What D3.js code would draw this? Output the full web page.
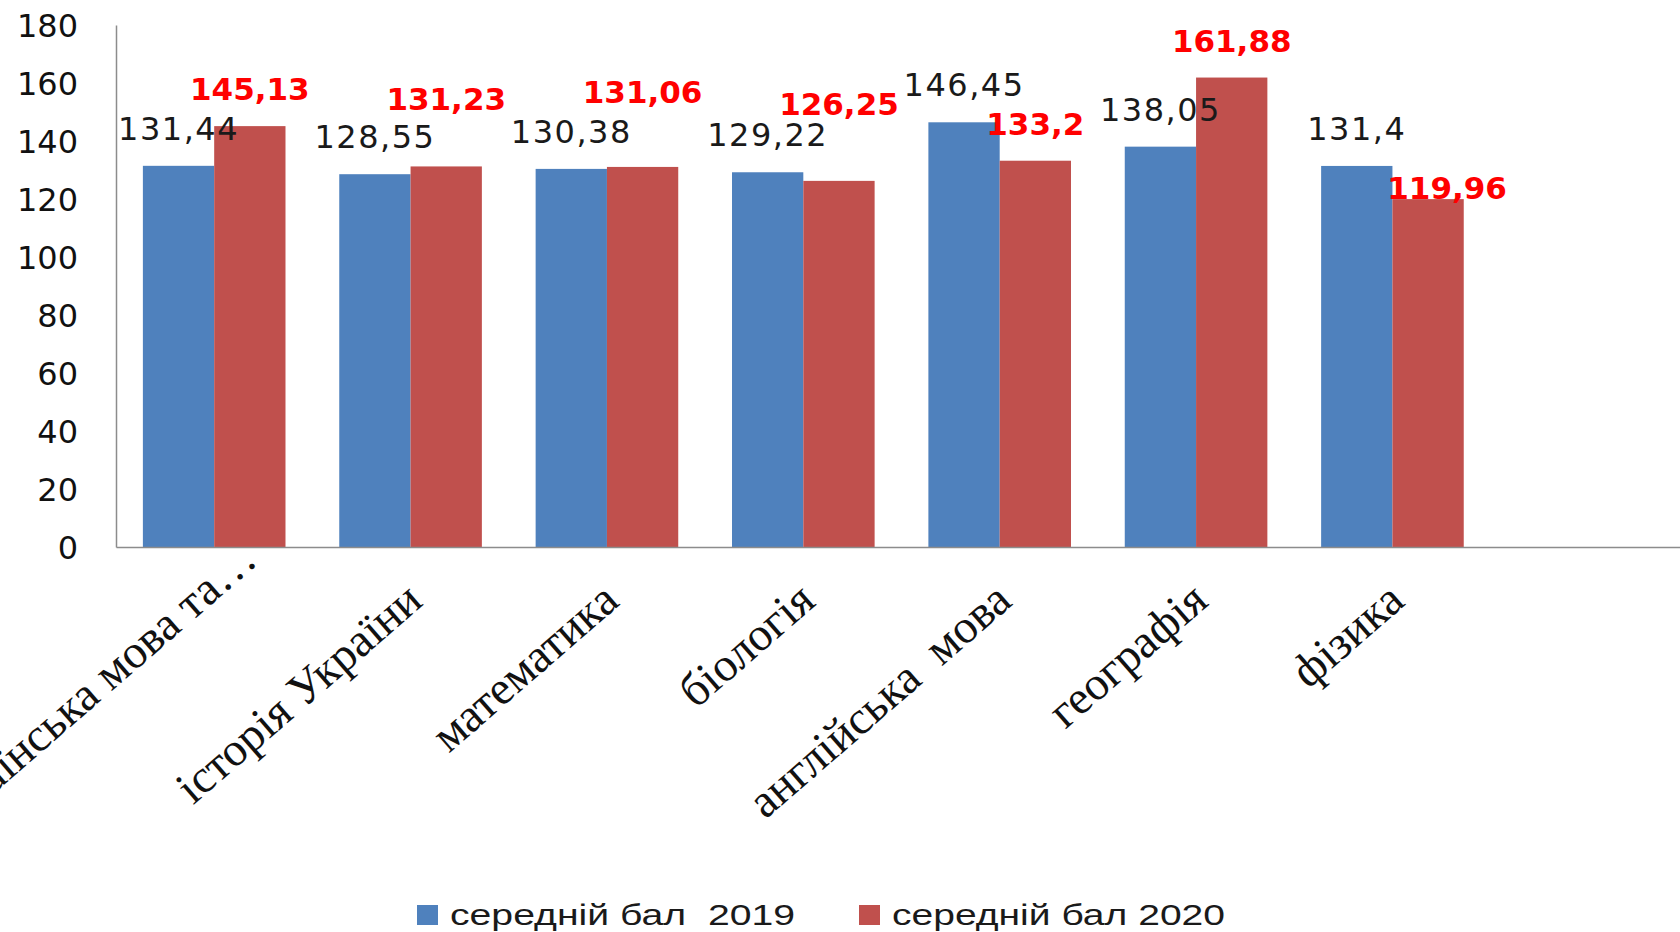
<!DOCTYPE html>
<html>
<head>
<meta charset="utf-8">
<script src="https://cdn.jsdelivr.net/npm/d3@7"></script>
<style>
  html, body { margin: 0; padding: 0; background: #fff; overflow: hidden; }
  svg { display: block; }
  text { white-space: pre; }
</style>
</head>
<body>
<svg id="chart" width="1680" height="932"></svg>
<script>
// ---- data ----
const categories = ["українська мова та…", "історія України", "математика", "біологія", "англійська  мова", "географія", "фізика", ""];
const values2019 = [131.44, 128.55, 130.38, 129.22, 146.45, 138.05, 131.4];
const values2020 = [145.13, 131.23, 131.06, 126.25, 133.2, 161.88, 119.96];
const seriesNames = ["середній бал  2019", "середній бал 2020"];
const yTicks = [0, 20, 40, 60, 80, 100, 120, 140, 160, 180];

// ---- layout / style (not data) ----
const colors = ["#4F81BD", "#C0504D"];
const labelShift2020 = [[0, 0], [0, -30], [0, -38], [0, -40], [0, 0], [0, 0], [19, 26]];
const catShift = [[31, -41], [0, 0], [0, 0], [0, 0], [0, 0], [0, 0], [0, 0], [0, 0]];

const svg = d3.select("#chart");
const mLeft = 116, mRight = 1687, mTop = 25, mBottom = 547;

const x0 = d3.scaleBand().domain(d3.range(categories.length)).range([mLeft, mRight]).padding(0);
const x1 = d3.scaleBand().domain([0, 1]).range([0, x0.bandwidth()]).paddingInner(0).paddingOuter(0.377);
const y = d3.scaleLinear().domain([0, 180]).range([mBottom, mTop]);

// bars
const series = [values2019, values2020];
series.forEach((vals, s) => {
  svg.append("g").selectAll("rect").data(vals).join("rect")
    .attr("x", (d, i) => x0(i) + x1(s))
    .attr("y", d => y(d))
    .attr("width", x1.bandwidth())
    .attr("height", d => y(0) - y(d))
    .attr("fill", colors[s]);
});

// axes
const yAxis = d3.axisLeft(y).tickValues(yTicks).tickSize(0).tickPadding(38);
const gy = svg.append("g").attr("transform", `translate(${mLeft},0)`).call(yAxis);
gy.select(".domain").attr("stroke", "#8c8c8c").attr("stroke-width", 1.5);
gy.selectAll(".tick text")
  .attr("font-family", "DejaVu Sans, Verdana, sans-serif")
  .attr("font-size", 32).attr("fill", "#111").attr("dy", "0.36em");

const xAxis = d3.axisBottom(x0).tickSize(0).tickFormat(() => "");
const gx = svg.append("g").attr("transform", `translate(0,${mBottom})`).call(xAxis);
gx.select(".domain").attr("stroke", "#8c8c8c").attr("stroke-width", 1.5);

// category labels
svg.append("g").selectAll("text").data(categories).join("text")
  .attr("transform", (d, i) => {
    const cx = x0(i) + x0.bandwidth() / 2 + 14 + catShift[i][0];
    const cy = mBottom + 57 + catShift[i][1];
    return `translate(${cx},${cy}) rotate(-41)`;
  })
  .attr("text-anchor", "end")
  .attr("font-family", "Liberation Serif, Times New Roman, serif")
  .attr("font-size", 47)
  .attr("fill", "#111")
  .text(d => d);

// value labels
const fmt = v => String(v).replace(".", ",");
svg.append("g").selectAll("text").data(values2019).join("text")
  .attr("x", (d, i) => x0(i) + x1(0) + x1.bandwidth() / 2)
  .attr("y", d => y(d) - 26)
  .attr("text-anchor", "middle")
  .attr("font-family", "DejaVu Sans, Verdana, sans-serif")
  .attr("font-size", 32)
  .attr("letter-spacing", 1.5)
  .attr("fill", "#1a1a1a")
  .text(fmt);

svg.append("g").selectAll("text").data(values2020).join("text")
  .attr("x", (d, i) => x0(i) + x1(1) + x1.bandwidth() / 2 + labelShift2020[i][0])
  .attr("y", (d, i) => y(d) - 26 + labelShift2020[i][1])
  .attr("text-anchor", "middle")
  .attr("font-family", "DejaVu Sans, Verdana, sans-serif")
  .attr("font-weight", "bold")
  .attr("font-size", 31)
  .attr("fill", "#FF0000")
  .text(fmt);

// legend
const legendX = [417, 859];
const legendW = [345, 333];
const lg = svg.append("g");
seriesNames.forEach((name, i) => {
  lg.append("rect").attr("x", legendX[i]).attr("y", 905).attr("width", 21).attr("height", 20).attr("fill", colors[i]);
  lg.append("text").attr("x", legendX[i] + 33).attr("y", 925)
    .attr("font-family", "Liberation Sans, Arial, sans-serif")
    .attr("font-size", 30)
    .attr("fill", "#1a1a1a")
    .attr("textLength", legendW[i]).attr("lengthAdjust", "spacingAndGlyphs")
    .text(name);
});
</script>
</body>
</html>
